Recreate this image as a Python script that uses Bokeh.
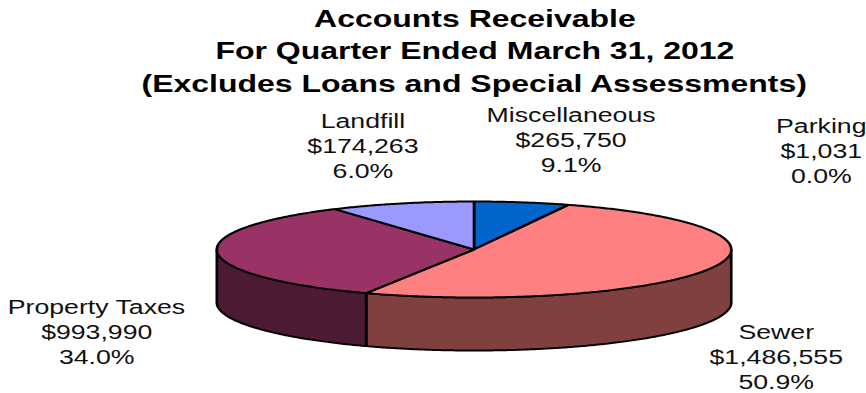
import numpy as np
from bokeh.core.properties import value
from bokeh.embed import file_html
from bokeh.models import InlineStyleSheet, Range1d
from bokeh.plotting import figure
from bokeh.resources import INLINE

# Accounts receivable by fund, in dollars, clockwise from twelve o'clock
slice_names = ["Landfill", "Parking", "Sewer", "Property Taxes", "Miscellaneous"]
slice_amounts = [174263, 1031, 1486555, 993990, 265750]
slice_colors = ["#0066CC", "#CCFFFF", "#FF8080", "#993366", "#9999FF"]
wall_colors = ["#003366", "#668080", "#804040", "#4D1A33", "#4D4D80"]

title_lines = [
    "Accounts Receivable",
    "For Quarter Ended March 31, 2012",
    "(Excludes Loans and Special Assessments)",
]

label_names = ["Landfill", "Miscellaneous", "Parking", "Property Taxes", "Sewer"]
label_amounts = ["$174,263", "$265,750", "$1,031", "$993,990", "$1,486,555"]
label_shares = ["6.0%", "9.1%", "0.0%", "34.0%", "50.9%"]

# Pie geometry in page units
CX, CY = 473, 249
RX, RY = 257, 48
DEPTH = 53
LABEL_X = [362, 570, 820, 96, 775]
LABEL_Y = [121, 115, 126, 307, 332]
LINE_STEP = 25
 
WIDTH, HEIGHT = 866, 393
H_STRETCH = 4 / 3


def rim(a, b):
    """Points on the top ellipse between two clockwise angles in degrees."""
    t = np.radians(np.linspace(a, b, max(int(abs(b - a)) * 2, 2)))
    return CX + RX * np.sin(t), CY - RY * np.cos(t)


p = figure(
    width=round(WIDTH / H_STRETCH),
    height=HEIGHT,
    x_range=Range1d(0, WIDTH),
    y_range=Range1d(HEIGHT, 0),
    output_backend="svg",
    toolbar_location=None,
    min_border=0,
    outline_line_color=None,
)
p.axis.visible = False
p.grid.visible = False
# The whole chart is drawn in a wide, extended proportion
p.stylesheets = [
    InlineStyleSheet(
        css=f".bk-Canvas {{ transform: scaleX({H_STRETCH}); transform-origin: 0 0; }}"
        " :host { overflow: visible; }"
    )
]

total = sum(slice_amounts)
edges = np.concatenate([[0], np.cumsum(slice_amounts) / total * 360])

# Side walls of the front half
for i, color in enumerate(wall_colors):
    a, b = max(edges[i], 90), min(edges[i + 1], 270)
    if a >= b:
        continue
    xs, ys = rim(a, b)
    p.patch(
        np.concatenate([xs, xs[::-1]]),
        np.concatenate([ys, ys[::-1] + DEPTH]),
        fill_color=color,
        line_color="black",
        line_width=2,
    )

# Top face
for i, color in enumerate(slice_colors):
    xs, ys = rim(edges[i], edges[i + 1])
    p.patch(
        np.concatenate([[CX], xs]),
        np.concatenate([[CY], ys]),
        fill_color=color,
        line_color="black",
        line_width=2,
    )

# Title
p.text(
    x=[474] * 3,
    y=[18, 50, 83],
    text=title_lines,
    text_font=value("Liberation Sans"),
    text_font_style="bold",
    text_font_size="24px",
    text_color="black",
    text_align="center",
    text_baseline="middle",
)

# Three-line slice labels
for i in range(len(label_names)):
    p.text(
        x=[LABEL_X[i]] * 3,
        y=[LABEL_Y[i] + k * LINE_STEP for k in range(3)],
        text=[label_names[i], label_amounts[i], label_shares[i]],
        text_font=value("Liberation Sans"),
        text_font_size="20px",
        text_color="#111111",
        text_align="center",
        text_baseline="middle",
    )

open("out.html", "w").write(file_html(p, INLINE))
